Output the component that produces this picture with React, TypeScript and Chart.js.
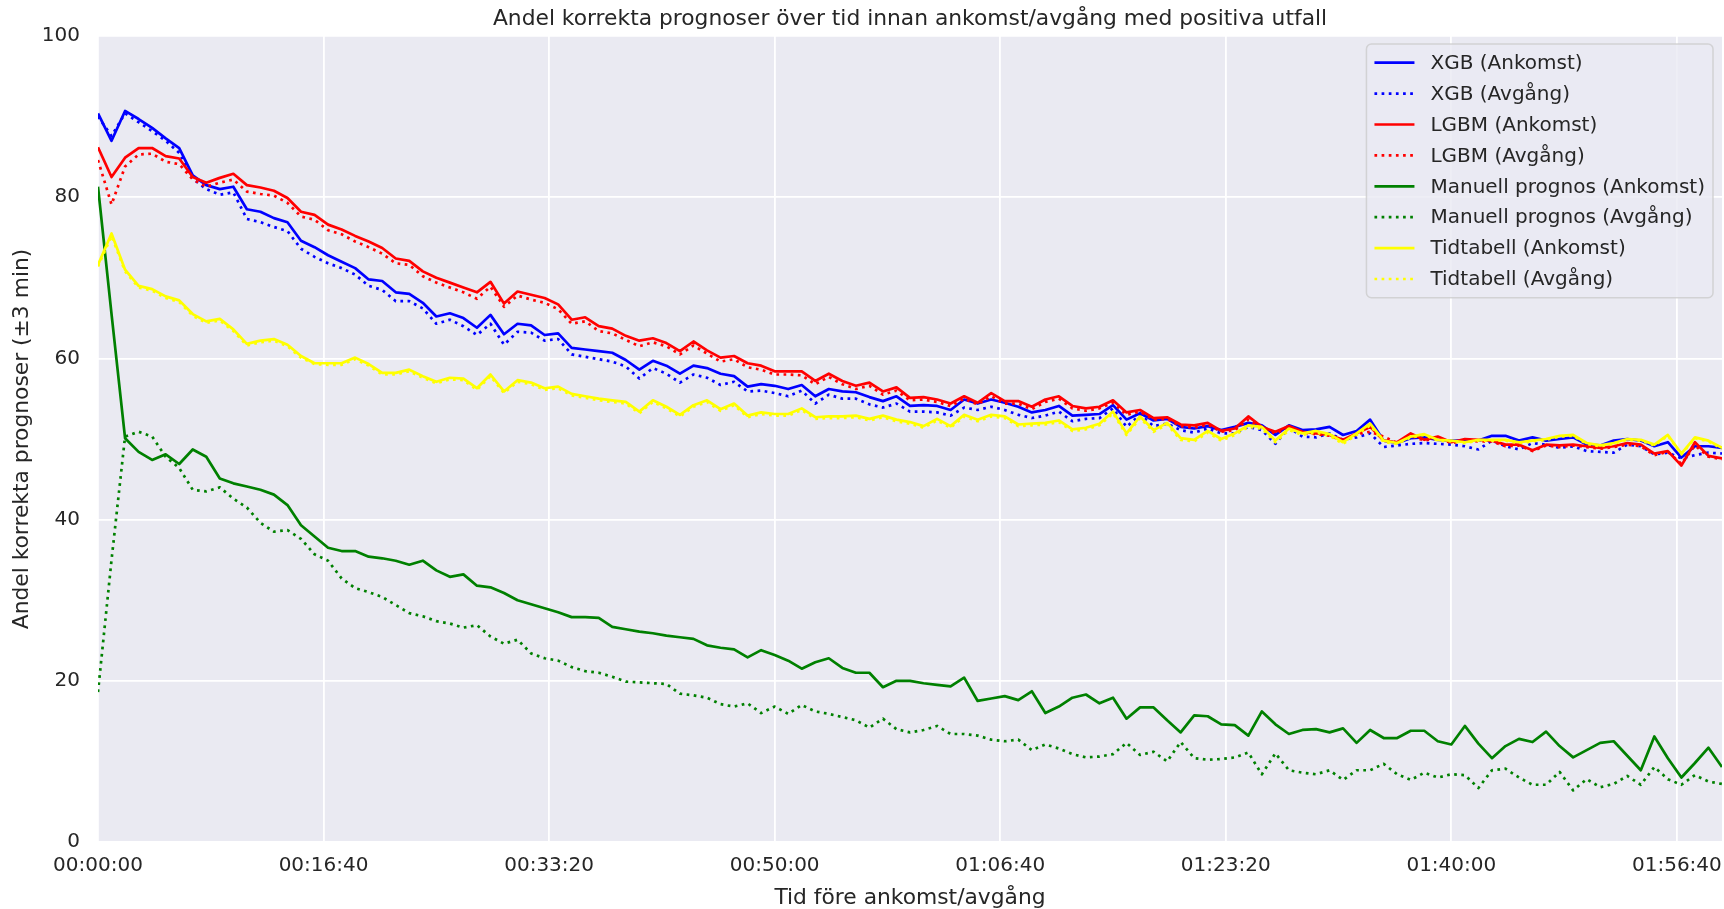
import React, { useEffect, useRef } from 'react';
import { Chart, registerables } from 'chart.js';

Chart.register(...registerables);

const chartTitle = 'Andel korrekta prognoser över tid innan ankomst/avgång med positiva utfall';
const xAxisTitle = 'Tid före ankomst/avgång';
const yAxisTitle = 'Andel korrekta prognoser (±3 min)';

// minutes before arrival/departure (one point per minute)
const minutes: number[] = [
  0, 1, 2, 3, 4, 5, 6, 7, 8, 9, 10, 11, 12, 13, 14, 15, 16, 17, 18, 19,
  20, 21, 22, 23, 24, 25, 26, 27, 28, 29, 30, 31, 32, 33, 34, 35, 36, 37, 38, 39,
  40, 41, 42, 43, 44, 45, 46, 47, 48, 49, 50, 51, 52, 53, 54, 55, 56, 57, 58, 59,
  60, 61, 62, 63, 64, 65, 66, 67, 68, 69, 70, 71, 72, 73, 74, 75, 76, 77, 78, 79,
  80, 81, 82, 83, 84, 85, 86, 87, 88, 89, 90, 91, 92, 93, 94, 95, 96, 97, 98, 99,
  100, 101, 102, 103, 104, 105, 106, 107, 108, 109, 110, 111, 112, 113, 114, 115, 116, 117, 118, 119,
  120,
];

const xgbAnkomst: number[] = [
  90.4, 87.0, 90.7, 89.7, 88.6, 87.3, 86.1, 82.7, 81.5, 81.0, 81.3, 78.5, 78.2, 77.4, 76.9, 74.6, 73.8, 72.8, 72.0, 71.2,
  69.8, 69.6, 68.2, 68.0, 66.9, 65.2, 65.6, 65.0, 63.8, 65.4, 63.0, 64.3, 64.1, 62.9, 63.1, 61.3, 61.1, 60.9, 60.7, 59.8,
  58.6, 59.7, 59.1, 58.1, 59.1, 58.8, 58.1, 57.8, 56.5, 56.8, 56.6, 56.2, 56.7, 55.3, 56.2, 55.9, 55.8, 55.2, 54.7, 55.3,
  54.1, 54.2, 54.1, 53.6, 54.9, 54.4, 54.9, 54.5, 54.0, 53.3, 53.6, 54.1, 52.9, 53.0, 53.1, 54.2, 52.4, 53.2, 52.3, 52.5,
  51.5, 51.3, 51.6, 51.1, 51.5, 52.0, 51.7, 50.5, 51.7, 51.1, 51.2, 51.5, 50.5, 51.0, 52.4, 49.8, 49.5, 50.1, 50.2, 49.9,
  49.8, 49.8, 49.8, 50.4, 50.4, 49.8, 50.2, 49.8, 50.0, 50.2, 49.3, 49.2, 49.8, 50.0, 49.8, 49.1, 49.6, 47.7, 49.1, 49.1,
  48.9,
];

const xgbAvgang: number[] = [
  90.0, 87.6, 90.4, 89.3, 88.2, 87.0, 85.5, 82.3, 81.0, 80.3, 80.6, 77.3, 76.9, 76.3, 75.8, 73.6, 72.6, 71.8, 71.2, 70.4,
  69.0, 68.5, 67.1, 67.1, 66.2, 64.3, 64.8, 64.0, 62.9, 64.3, 61.7, 63.3, 63.2, 62.2, 62.4, 60.5, 60.2, 59.9, 59.6, 59.0,
  57.5, 58.8, 58.1, 57.0, 58.0, 57.6, 56.7, 57.1, 55.9, 56.0, 55.7, 55.3, 56.0, 54.4, 55.5, 55.0, 55.0, 54.3, 53.9, 54.4,
  53.4, 53.4, 53.3, 52.9, 53.9, 53.6, 54.0, 53.6, 53.0, 52.6, 52.9, 53.4, 52.2, 52.5, 52.6, 53.8, 51.5, 53.0, 51.6, 51.9,
  51.1, 50.8, 51.3, 50.7, 50.7, 51.5, 51.1, 49.4, 51.4, 50.3, 50.2, 50.7, 49.9, 50.2, 50.7, 49.0, 49.2, 49.4, 49.5, 49.4,
  49.3, 49.1, 48.7, 49.8, 49.1, 48.7, 49.5, 49.3, 48.9, 49.1, 48.5, 48.4, 48.3, 49.3, 49.1, 48.1, 48.3, 47.6, 48.0, 48.3,
  48.2,
];

const lgbmAnkomst: number[] = [
  86.2, 82.5, 84.9, 86.1, 86.1, 85.1, 84.8, 82.5, 81.8, 82.4, 82.9, 81.5, 81.2, 80.8, 79.9, 78.2, 77.8, 76.6, 76.0, 75.2,
  74.5, 73.7, 72.4, 72.1, 70.8, 70.0, 69.4, 68.8, 68.2, 69.5, 66.8, 68.3, 67.9, 67.5, 66.7, 64.8, 65.1, 64.0, 63.7, 62.8,
  62.2, 62.5, 61.9, 60.9, 62.1, 61.0, 60.1, 60.3, 59.4, 59.1, 58.4, 58.4, 58.4, 57.2, 58.1, 57.2, 56.6, 57.0, 55.9, 56.4,
  55.1, 55.2, 54.9, 54.4, 55.3, 54.5, 55.7, 54.7, 54.7, 54.0, 54.9, 55.3, 54.1, 53.8, 54.0, 54.8, 53.3, 53.6, 52.6, 52.7,
  51.8, 51.7, 52.0, 51.0, 51.3, 52.8, 51.5, 50.9, 51.6, 50.9, 50.7, 50.5, 49.9, 50.7, 51.5, 49.8, 49.6, 50.7, 49.9, 50.3,
  49.6, 50.0, 49.9, 49.8, 49.3, 49.3, 48.6, 49.3, 49.2, 49.3, 49.1, 48.9, 49.1, 49.5, 49.3, 48.2, 48.5, 46.7, 49.6, 47.9,
  47.6,
];

const lgbmAvgang: number[] = [
  84.6, 79.1, 83.8, 85.3, 85.4, 84.4, 84.1, 82.2, 81.3, 81.8, 82.2, 80.7, 80.4, 80.2, 79.3, 77.6, 77.2, 75.9, 75.4, 74.5,
  73.8, 73.0, 71.8, 71.6, 70.2, 69.4, 68.8, 68.2, 67.4, 68.9, 66.4, 67.8, 67.3, 66.9, 66.1, 64.3, 64.6, 63.4, 63.1, 62.3,
  61.5, 62.0, 61.5, 60.5, 61.6, 60.6, 59.6, 59.9, 58.9, 58.6, 58.0, 58.0, 57.9, 56.8, 57.7, 56.8, 56.2, 56.6, 55.5, 56.0,
  54.8, 54.9, 54.6, 54.1, 55.0, 54.3, 55.3, 54.4, 54.4, 53.7, 54.6, 55.0, 53.8, 53.5, 53.8, 54.5, 53.0, 53.4, 52.4, 52.5,
  51.6, 51.4, 51.8, 50.9, 51.1, 52.4, 51.3, 50.7, 51.4, 50.8, 50.6, 50.4, 49.8, 50.6, 50.9, 50.3, 49.5, 50.4, 49.8, 50.1,
  49.5, 49.8, 49.7, 49.7, 49.1, 49.2, 48.5, 49.2, 49.0, 49.2, 49.0, 48.8, 49.0, 49.3, 49.1, 48.0, 48.4, 46.9, 49.2, 47.8,
  47.5,
];

const manuellAnkomst: number[] = [
  81.3, 65.5, 50.1, 48.4, 47.4, 48.1, 46.9, 48.7, 47.8, 45.1, 44.5, 44.1, 43.7, 43.1, 41.8, 39.3, 37.9, 36.5, 36.1, 36.1,
  35.4, 35.2, 34.9, 34.4, 34.9, 33.7, 32.9, 33.2, 31.8, 31.6, 30.9, 30.0, 29.5, 29.0, 28.5, 27.9, 27.9, 27.8, 26.7, 26.4,
  26.1, 25.9, 25.6, 25.4, 25.2, 24.4, 24.1, 23.9, 22.9, 23.8, 23.2, 22.5, 21.5, 22.3, 22.8, 21.6, 21.0, 21.0, 19.2, 20.0,
  20.0, 19.7, 19.5, 19.3, 20.4, 17.5, 17.8, 18.1, 17.6, 18.7, 16.0, 16.8, 17.9, 18.3, 17.2, 17.9, 15.3, 16.7, 16.7, 15.1,
  13.6, 15.7, 15.6, 14.6, 14.5, 13.2, 16.2, 14.6, 13.4, 13.9, 14.0, 13.6, 14.1, 12.3, 13.9, 12.9, 12.9, 13.8, 13.8, 12.5,
  12.1, 14.4, 12.2, 10.4, 11.9, 12.8, 12.4, 13.7, 11.9, 10.5, 11.4, 12.3, 12.5, 10.7, 8.9, 13.1, 10.4, 8.0, 9.8, 11.7,
  9.3,
];

const manuellAvgang: number[] = [
  18.6, 35.0, 50.3, 50.9, 50.3, 47.8, 46.4, 43.7, 43.5, 44.0, 42.6, 41.5, 39.6, 38.5, 38.7, 37.6, 35.7, 34.9, 32.7, 31.5,
  31.0, 30.4, 29.4, 28.4, 28.0, 27.4, 27.1, 26.6, 26.9, 25.5, 24.6, 25.1, 23.4, 22.8, 22.5, 21.7, 21.2, 21.0, 20.5, 19.9,
  19.8, 19.7, 19.6, 18.4, 18.2, 17.9, 17.1, 16.8, 17.2, 16.0, 16.8, 15.9, 17.0, 16.2, 15.9, 15.5, 15.1, 14.2, 15.3, 14.0,
  13.6, 13.9, 14.4, 13.4, 13.4, 13.2, 12.7, 12.5, 12.7, 11.4, 12.1, 11.6, 10.9, 10.5, 10.6, 10.9, 12.3, 10.8, 11.2, 10.0,
  12.4, 10.4, 10.2, 10.3, 10.5, 11.1, 8.4, 11.0, 8.9, 8.6, 8.4, 8.9, 7.7, 8.9, 8.9, 9.7, 8.4, 7.7, 8.6, 8.0,
  8.4, 8.3, 6.7, 8.9, 9.1, 8.0, 7.1, 7.1, 8.7, 6.4, 7.8, 6.8, 7.2, 8.2, 7.1, 9.3, 7.8, 7.1, 8.3, 7.5,
  7.2,
];

const tidtabellAnkomst: number[] = [
  71.6, 75.5, 71.0, 69.0, 68.6, 67.7, 67.2, 65.5, 64.6, 64.9, 63.6, 61.8, 62.2, 62.4, 61.7, 60.3, 59.4, 59.4, 59.4, 60.1,
  59.3, 58.2, 58.2, 58.6, 57.8, 57.1, 57.6, 57.5, 56.3, 58.0, 55.9, 57.3, 57.0, 56.3, 56.5, 55.6, 55.3, 55.0, 54.8, 54.6,
  53.4, 54.8, 54.0, 53.0, 54.2, 54.8, 53.7, 54.4, 52.9, 53.3, 53.1, 53.1, 53.8, 52.7, 52.8, 52.8, 52.9, 52.5, 52.9, 52.4,
  52.1, 51.6, 52.5, 51.6, 53.0, 52.4, 53.0, 52.8, 51.8, 51.9, 52.0, 52.3, 51.2, 51.4, 51.9, 53.4, 50.7, 52.8, 51.1, 52.0,
  50.1, 49.9, 51.0, 50.0, 50.7, 51.7, 51.5, 49.8, 51.3, 50.7, 51.0, 50.6, 49.6, 50.7, 51.9, 49.8, 49.5, 50.3, 50.6, 49.9,
  49.8, 49.6, 49.9, 49.9, 49.9, 49.6, 49.8, 50.0, 50.4, 50.5, 49.5, 49.2, 49.5, 50.0, 49.9, 49.3, 50.5, 48.2, 50.2, 49.8,
  48.9,
];

const tidtabellAvgang: number[] = [
  71.4, 75.2, 70.8, 68.8, 68.4, 67.5, 67.0, 65.3, 64.4, 64.7, 63.4, 61.6, 62.0, 62.2, 61.5, 60.1, 59.3, 59.2, 59.2, 59.9,
  59.1, 58.0, 58.0, 58.4, 57.6, 56.9, 57.4, 57.3, 56.1, 57.8, 55.7, 57.1, 56.8, 56.1, 56.3, 55.4, 55.1, 54.8, 54.6, 54.4,
  53.2, 54.6, 53.8, 52.8, 54.0, 54.6, 53.5, 54.2, 52.7, 53.1, 52.9, 52.9, 53.6, 52.5, 52.6, 52.6, 52.7, 52.3, 52.7, 52.2,
  51.9, 51.4, 52.3, 51.4, 52.8, 52.2, 52.8, 52.6, 51.6, 51.7, 51.8, 52.1, 51.0, 51.2, 51.7, 53.2, 50.5, 52.6, 50.9, 51.8,
  49.9, 49.7, 50.8, 49.8, 50.5, 51.5, 51.3, 49.6, 51.1, 50.5, 50.8, 50.4, 49.4, 50.5, 51.7, 49.6, 49.4, 50.2, 50.5, 49.8,
  49.7, 49.5, 49.8, 49.8, 49.8, 49.5, 49.7, 49.9, 50.3, 50.4, 49.4, 49.1, 49.4, 49.9, 49.8, 49.2, 50.4, 48.1, 50.1, 49.7,
  48.8,
];

const seriesLabels: string[] = [
  'XGB (Ankomst)',
  'XGB (Avgång)',
  'LGBM (Ankomst)',
  'LGBM (Avgång)',
  'Manuell prognos (Ankomst)',
  'Manuell prognos (Avgång)',
  'Tidtabell (Ankomst)',
  'Tidtabell (Avgång)',
];
const seriesValues: number[][] = [
  xgbAnkomst, xgbAvgang, lgbmAnkomst, lgbmAvgang,
  manuellAnkomst, manuellAvgang, tidtabellAnkomst, tidtabellAvgang,
];
const seriesColors: string[] = ['#0000ff', '#0000ff', '#ff0000', '#ff0000', '#008000', '#008000', '#ffff00', '#ffff00'];
const seriesDotted: boolean[] = [false, true, false, true, false, true, false, true];

// tick positions in seconds (00:00:00, 00:16:40, ...)
const xTickSeconds: number[] = [0, 1000, 2000, 3000, 4000, 5000, 6000, 7000];
const yTicks: number[] = [0, 20, 40, 60, 80, 100];

const FONT = '"DejaVu Sans", "Liberation Sans", sans-serif';
const TEXT = '#262626';
const LINE_W = 2.7;
const DOT_DASH = [2.7, 4.45];

const pad2 = (n: number) => String(n).padStart(2, '0');
const fmtTime = (s: number) => {
  const h = Math.floor(s / 3600);
  const m = Math.floor((s % 3600) / 60);
  const sec = Math.round(s % 60);
  return `${pad2(h)}:${pad2(m)}:${pad2(sec)}`;
};

const bgPlugin = {
  id: 'axesBg',
  beforeDraw(chart: any) {
    const { ctx, chartArea } = chart;
    ctx.save();
    ctx.fillStyle = '#ffffff';
    ctx.fillRect(0, 0, chart.width, chart.height);
    ctx.fillStyle = '#eaeaf2';
    ctx.fillRect(chartArea.left, chartArea.top, chartArea.right - chartArea.left, chartArea.bottom - chartArea.top);
    ctx.restore();
  },
};

const titlePlugin = {
  id: 'mplTitle',
  afterDraw(chart: any) {
    const { ctx, chartArea } = chart;
    ctx.save();
    ctx.font = `21.8px ${FONT}`;
    ctx.fillStyle = TEXT;
    ctx.textAlign = 'center';
    ctx.textBaseline = 'alphabetic';
    ctx.fillText(chartTitle, (chartArea.left + chartArea.right) / 2, 25);
    ctx.restore();
  },
};

const legendPlugin = {
  id: 'mplLegend',
  afterDatasetsDraw(chart: any) {
    const { ctx, chartArea } = chart;
    const datasets = chart.data.datasets;
    const fontSize = 20;
    const rowH = 30.9;
    const borderPad = 8;
    const handleLen = 40;
    const handlePad = 16;
    ctx.save();
    ctx.font = `${fontSize}px ${FONT}`;
    let maxW = 0;
    datasets.forEach((d: any) => { maxW = Math.max(maxW, ctx.measureText(d.label).width); });
    const boxW = borderPad + handleLen + handlePad + maxW + borderPad;
    const firstOff = 18.7;
    const boxH = firstOff * 2 + rowH * (datasets.length - 1);
    const right = chartArea.right - 9;
    const top = chartArea.top + 8;
    const left = right - boxW;
    const r = 5;
    ctx.beginPath();
    ctx.moveTo(left + r, top);
    ctx.lineTo(right - r, top);
    ctx.arcTo(right, top, right, top + r, r);
    ctx.lineTo(right, top + boxH - r);
    ctx.arcTo(right, top + boxH, right - r, top + boxH, r);
    ctx.lineTo(left + r, top + boxH);
    ctx.arcTo(left, top + boxH, left, top + boxH - r, r);
    ctx.lineTo(left, top + r);
    ctx.arcTo(left, top, left + r, top, r);
    ctx.closePath();
    ctx.fillStyle = 'rgba(234,234,242,0.8)';
    ctx.fill();
    ctx.strokeStyle = 'rgba(204,204,204,0.8)';
    ctx.lineWidth = 1.5;
    ctx.stroke();
    datasets.forEach((d: any, i: number) => {
      const cy = top + firstOff + i * rowH;
      const hx = left + borderPad;
      ctx.beginPath();
      ctx.setLineDash(d.borderDash || []);
      ctx.strokeStyle = d.borderColor;
      ctx.lineWidth = LINE_W;
      ctx.lineCap = 'butt';
      ctx.moveTo(hx, cy);
      ctx.lineTo(hx + handleLen, cy);
      ctx.stroke();
      ctx.setLineDash([]);
      ctx.fillStyle = TEXT;
      ctx.textAlign = 'left';
      ctx.textBaseline = 'middle';
      ctx.fillText(d.label, hx + handleLen + handlePad, cy + 1);
    });
    ctx.restore();
  },
};

export default function App() {
  const canvasRef = useRef<HTMLCanvasElement | null>(null);

  useEffect(() => {
    const canvas = canvasRef.current;
    if (!canvas) return;
    const datasets = seriesLabels.map((label, i) => ({
      label,
      data: minutes.map((m, k) => ({ x: m * 60, y: seriesValues[i][k] })),
      borderColor: seriesColors[i],
      backgroundColor: seriesColors[i],
      borderWidth: LINE_W,
      borderDash: seriesDotted[i] ? DOT_DASH : [],
      borderCapStyle: 'butt' as const,
      borderJoinStyle: 'round' as const,
      pointRadius: 0,
      pointHoverRadius: 0,
      tension: 0,
      fill: false,
      order: seriesLabels.length - i,
    }));

    const chart = new Chart(canvas, {
      type: 'line',
      data: { datasets },
      options: {
        animation: false,
        responsive: false,
        devicePixelRatio: 1,
        events: [],
        layout: { padding: { top: 36, right: 2, left: 0, bottom: 0 } },
        plugins: {
          legend: { display: false },
          title: { display: false },
          tooltip: { enabled: false },
        },
        scales: {
          x: {
            type: 'linear',
            min: 0,
            max: 7200,
            border: { display: false },
            grid: { color: '#ffffff', lineWidth: 1.8, drawTicks: false },
            afterBuildTicks: (scale: any) => { scale.ticks = xTickSeconds.map((v) => ({ value: v })); },
            ticks: {
              autoSkip: false,
              maxRotation: 0,
              padding: 12,
              color: TEXT,
              font: { family: FONT, size: 20 },
              callback: (v: any) => fmtTime(Number(v)),
            },
            title: {
              display: true,
              text: xAxisTitle,
              color: TEXT,
              font: { family: FONT, size: 21.8, lineHeight: 1 },
              padding: { top: 0, bottom: 0 },
            },
            afterFit: (scale: any) => { scale.height = 67; scale.paddingRight = 0; scale.paddingLeft = 0; },
          },
          y: {
            type: 'linear',
            min: 0,
            max: 100,
            border: { display: false },
            grid: { color: '#ffffff', lineWidth: 1.8, drawTicks: false },
            afterBuildTicks: (scale: any) => { scale.ticks = yTicks.map((v) => ({ value: v })); },
            ticks: {
              autoSkip: false,
              padding: 18,
              color: TEXT,
              font: { family: FONT, size: 20 },
              callback: (v: any) => String(v),
            },
            title: {
              display: true,
              text: yAxisTitle,
              color: TEXT,
              font: { family: FONT, size: 21.8, lineHeight: 1 },
              padding: { top: 11, bottom: 0 },
            },
            afterFit: (scale: any) => { scale.width = 98; },
          },
        },
      },
      plugins: [bgPlugin, titlePlugin, legendPlugin],
    });
    return () => chart.destroy();
  }, []);

  return (
    <div style={{ position: 'absolute', left: 0, top: 0, width: 1724, height: 909, background: '#ffffff' }}>
      <canvas ref={canvasRef} width={1724} height={909} style={{ display: 'block', width: 1724, height: 909 }} />
    </div>
  );
}
